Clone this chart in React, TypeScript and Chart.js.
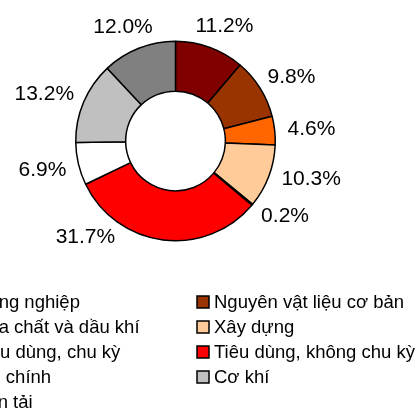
import React, { useEffect, useRef } from "react";
import { Chart, registerables } from "chart.js";

Chart.register(...registerables);

const categories = [
  "Công nghiệp",
  "Nguyên vật liệu cơ bản",
  "Hóa chất và dầu khí",
  "Xây dựng",
  "Tiêu dùng, chu kỳ",
  "Tiêu dùng, không chu kỳ",
  "Tài chính",
  "Cơ khí",
  "Vận tải",
];
const shares = [11.2, 9.8, 4.6, 10.3, 0.2, 31.7, 6.9, 13.2, 12.0];
const colors = [
  "#800000",
  "#993300",
  "#FF6600",
  "#FFCC99",
  "#000000",
  "#FF0000",
  "#FFFFFF",
  "#C0C0C0",
  "#808080",
];
// angular nudge (degrees) for label placement, like a manually moved Excel label
const labelNudge = [0, 0, 0, -3, -3, 32, 0, 0, 0];

const FONT = '"Liberation Sans", Arial, sans-serif';

const labelsPlugin = {
  id: "outsideLabels",
  afterDraw(chart: any) {
    const ctx = chart.ctx;
    const meta = chart.getDatasetMeta(0);
    ctx.save();
    ctx.font = `21px ${FONT}`;
    ctx.fillStyle = "#000";
    ctx.textAlign = "center";
    ctx.textBaseline = "middle";
    meta.data.forEach((arc: any, i: number) => {
      const { x, y, startAngle, endAngle, outerRadius } = arc.getProps(
        ["x", "y", "startAngle", "endAngle", "outerRadius"],
        true
      );
      const mid = (startAngle + endAngle) / 2 + (labelNudge[i] * Math.PI) / 180;
      const c = Math.cos(mid);
      const s = Math.sin(mid);
      const text = shares[i].toFixed(1) + "%";
      const w = ctx.measureText(text).width;
      const h = 15;
      const rx = outerRadius + 13;
      const ry = outerRadius + 16;
      const tx = x + rx * c + (w / 2) * c;
      const ty = y + ry * s + (h / 2) * s;
      ctx.fillText(text, tx, ty + 1);
    });
    ctx.restore();
  },
};

const legendPlugin = {
  id: "gridLegend",
  afterDraw(chart: any) {
    const ctx = chart.ctx;
    const labels: string[] = chart.data.labels;
    const bg: string[] = chart.data.datasets[0].backgroundColor;
    ctx.save();
    ctx.font = `18.5px ${FONT}`;
    ctx.textBaseline = "middle";
    ctx.textAlign = "left";
    const colX = [-42, 197];
    const rowY0 = 302;
    const rowStep = 25;
    labels.forEach((lab, i) => {
      const col = i % 2;
      const row = Math.floor(i / 2);
      const mx = colX[col];
      const my = rowY0 + row * rowStep;
      ctx.fillStyle = bg[i];
      ctx.fillRect(mx, my - 6, 12, 12);
      ctx.strokeStyle = "#000";
      ctx.lineWidth = 1.5;
      ctx.strokeRect(mx, my - 6, 12, 12);
      ctx.fillStyle = "#000";
      ctx.fillText(lab, mx + 17, my + 1);
    });
    ctx.restore();
  },
};

export default function App() {
  const ref = useRef<HTMLCanvasElement | null>(null);
  useEffect(() => {
    if (!ref.current) return;
    const chart = new Chart(ref.current, {
      type: "doughnut",
      data: {
        labels: categories,
        datasets: [
          {
            data: shares,
            backgroundColor: colors,
            borderColor: "#000000",
            borderWidth: 1.5,
          },
        ],
      },
      options: {
        animation: false,
        responsive: true,
        maintainAspectRatio: false,
        cutout: "50%",
        layout: {
          padding: { left: 75, top: 40.5, right: 144, bottom: 167.5 },
        },
        plugins: {
          legend: { display: false },
          tooltip: { enabled: false },
        },
      },
      plugins: [labelsPlugin, legendPlugin],
    });
    return () => chart.destroy();
  }, []);
  return (
    <div
      style={{
        position: "fixed",
        left: 0,
        top: 0,
        width: 420,
        height: 409,
        background: "#fff",
      }}
    >
      <canvas ref={ref} />
    </div>
  );
}
